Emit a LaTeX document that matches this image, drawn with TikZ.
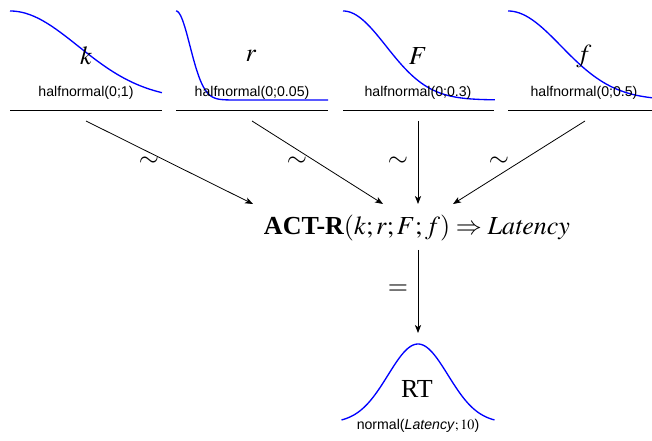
\documentclass[tikz,border=0pt]{standalone}
\usepackage{mathptmx}
\usepackage{fontspec}
\setmainfont{Liberation Serif}
\setsansfont{Liberation Sans}
\usetikzlibrary{arrows.meta}
\tikzset{
  curve/.style={blue, line width=1.0pt},
  baseline rule/.style={black, line width=0.75pt},
  conn/.style={black, line width=0.6pt, -{Stealth[length=6pt,width=4.6pt,inset=1.6pt]}},
  bigmath/.style={inner sep=0pt, font=\fontsize{19.5}{23}\selectfont},
  smalllab/.style={inner sep=0pt, font=\sffamily\fontsize{10.6}{12}\selectfont},
}
\begin{document}
\begin{tikzpicture}[x=0.75pt,y=-0.75pt]
\path[use as bounding box] (0,0) rectangle (652,441);
\clip (0,0) rectangle (652,441);
% density curves
\draw[curve] plot[domain=0:2.235,samples=60,smooth] ({10+68*\x},{100-89*exp(-0.5*\x*\x)});
\draw[curve] plot[domain=0:4,samples=80,smooth] ({176+14*\x},{100-89*exp(-0.5*\x*\x)}) -- (328,100);
\draw[curve] plot[domain=0:3.53,samples=70,smooth] ({343+43*\x},{100-89*exp(-0.5*\x*\x)});
\draw[curve] plot[domain=0:2.87,samples=70,smooth] ({508+53*\x},{100-89*exp(-0.5*\x*\x)});
\draw[curve] plot[domain=-2.55:2.55,samples=80,smooth] ({418+30*\x},{423-79*exp(-0.5*\x*\x)});
% rules
\draw[baseline rule] (10,111) -- (162,111);
\draw[baseline rule] (176,111) -- (328,111);
\draw[baseline rule] (343,111) -- (494,111);
\draw[baseline rule] (508,111) -- (662,111);
% parameter labels
\node[bigmath] (k) at (86,56) {$k$};
\node[bigmath] (r) at (251,56) {$r$};
\node[bigmath] (F) at (418,56) {$F$};
\node[bigmath] (f) at (584,56) {$f$};
\node[smalllab, anchor=base] (pk) at (86,96.5) {halfnormal(0;1)};
\node[smalllab, anchor=base] (pr) at (252,96.5) {halfnormal(0;0.05)};
\node[smalllab, anchor=base] (pF) at (418,96.5) {halfnormal(0;0.3)};
\node[smalllab, anchor=base] (pf) at (584,96.5) {halfnormal(0;0.5)};
% model
\node[bigmath, anchor=base] (act) at (417,235) {$\textbf{ACT-R}(k;r;F;f)\Rightarrow \mathit{Latency}$};
\node[bigmath, anchor=base] (rt) at (417,397) {RT};
\node[smalllab, anchor=base] (prt) at (418,429) {normal(\textit{Latency}$;10$)};
% connector ends
\coordinate (sk) at (86,121);
\coordinate (sr) at (252,121);
\coordinate (sF) at (418,121);
\coordinate (sf) at (585,121);
\coordinate (ek) at (253,204);
\coordinate (er) at (383,204);
\coordinate (eF) at (418,204);
\coordinate (ef) at (453,204);
\coordinate (sa) at (418,250);
\coordinate (ea) at (418,333);
\draw[conn] (sk) -- (ek);
\draw[conn] (sr) -- (er);
\draw[conn] (sF) -- (eF);
\draw[conn] (sf) -- (ef);
\draw[conn] (sa) -- (ea);
% relation symbols
\node[bigmath] (t1) at (149,162) {$\sim$};
\node[bigmath] (t2) at (297,162) {$\sim$};
\node[bigmath] (t3) at (398,162) {$\sim$};
\node[bigmath] (t4) at (499,162) {$\sim$};
\node[bigmath] (eq) at (398,290) {$=$};
\end{tikzpicture}
\end{document}
